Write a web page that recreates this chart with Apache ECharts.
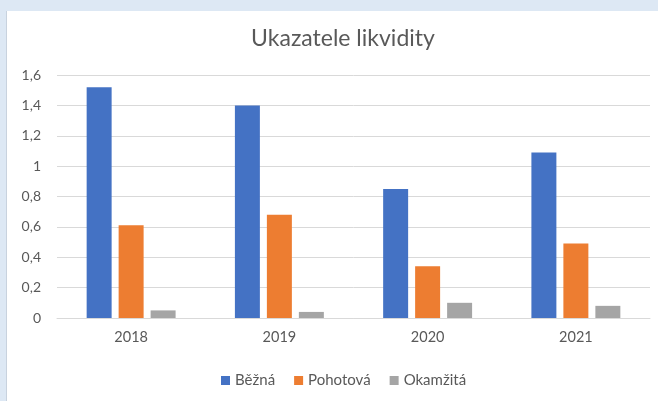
<!DOCTYPE html>
<html>
<head>
<meta charset="utf-8">
<script src="https://cdn.jsdelivr.net/npm/echarts@6/dist/echarts.min.js"></script>
<style>
  html, body { margin: 0; padding: 0; width: 658px; height: 401px; background: #dde8f4; overflow: hidden; }
  #frame { position: absolute; left: 6px; top: 11px; width: 652px; height: 390px; background: #ffffff; border-left: 1px solid #c8d2de; box-sizing: border-box; }
  #chart { position: absolute; left: 0; top: 0; width: 651px; height: 390px; }
</style>
</head>
<body>
<div id="frame"><div id="chart"></div></div>
<script>
const title = 'Ukazatele likvidity';
const categories = ['2018', '2019', '2020', '2021'];
const seriesNames = ['Běžná', 'Pohotová', 'Okamžitá'];
const bezna = [1.52, 1.40, 0.85, 1.09];
const pohotova = [0.61, 0.68, 0.34, 0.49];
const okamzita = [0.05, 0.04, 0.10, 0.08];
const yTickLabels = ['0', '0,2', '0,4', '0,6', '0,8', '1', '1,2', '1,4', '1,6'];

const colors = ['#4472C4', '#ED7D31', '#A5A5A5'];
const textColor = '#595959';
const font = 'Lato, "Open Sans", sans-serif';

const chart = echarts.init(document.getElementById('chart'), null, { renderer: 'canvas' });
const values = [bezna, pohotova, okamzita];

chart.setOption({
  animation: false,
  backgroundColor: '#ffffff',
  title: {
    text: title,
    left: 331,
    textAlign: 'center',
    top: 11,
    textStyle: { fontFamily: font, fontSize: 23, fontWeight: 'normal', color: textColor }
  },
  legend: {
    data: seriesNames,
    bottom: 8,
    left: 209,
    icon: 'rect',
    itemWidth: 9,
    itemHeight: 9,
    itemGap: 19,
    textStyle: { fontFamily: font, fontSize: 15, color: textColor }
  },
  grid: { left: 50, right: 8, top: 64, bottom: 83, containLabel: false },
  xAxis: {
    type: 'category',
    data: categories,
    axisLine: { lineStyle: { color: '#d9d9d9', width: 1 } },
    axisTick: { show: false },
    axisLabel: { fontFamily: font, fontSize: 14.5, color: textColor, margin: 12 }
  },
  yAxis: {
    type: 'value',
    min: 0,
    max: 1.6,
    interval: 0.2,
    axisLine: { show: false },
    axisTick: { show: false },
    splitLine: { lineStyle: { color: '#d9d9d9', width: 1 } },
    axisLabel: {
      fontFamily: font, fontSize: 14, color: textColor, margin: 16,
      formatter: function (v) { return yTickLabels[Math.round(v / 0.2)]; }
    }
  },
  series: seriesNames.map(function (name, i) {
    return {
      name: name,
      type: 'bar',
      data: values[i],
      itemStyle: { color: colors[i] },
      barGap: '28%',
      barCategoryGap: '40%'
    };
  })
});
</script>
</body>
</html>
